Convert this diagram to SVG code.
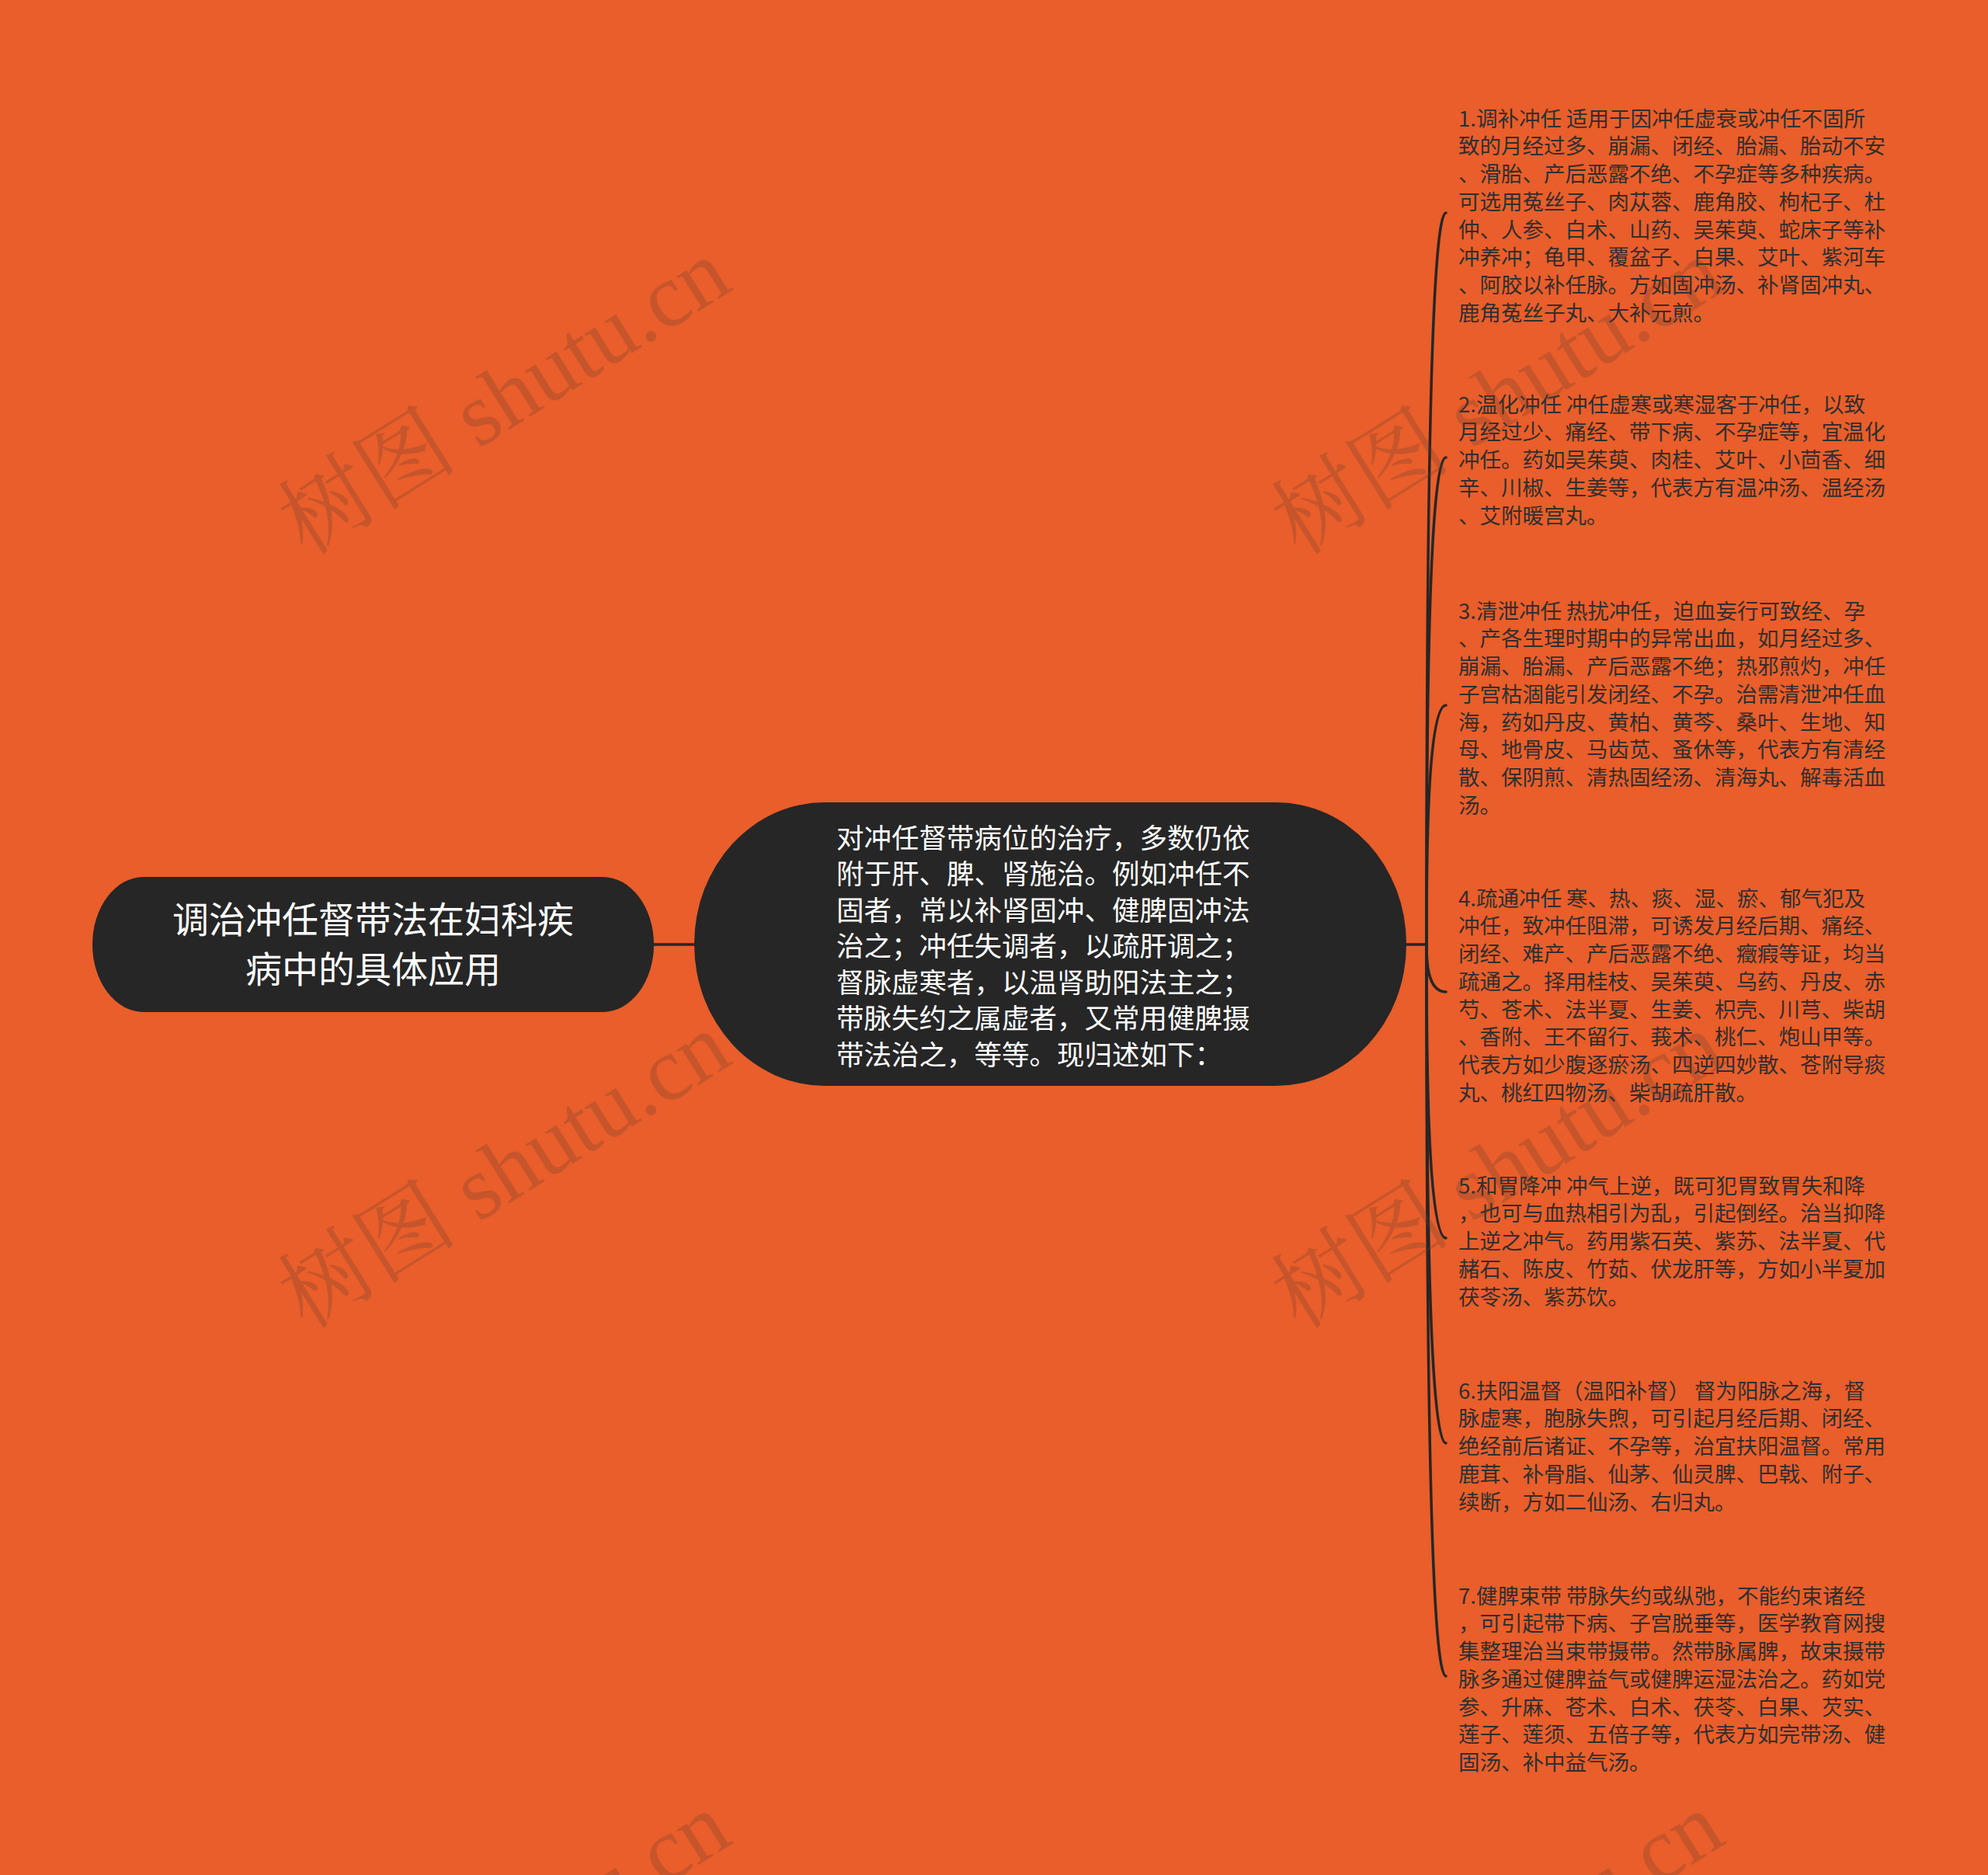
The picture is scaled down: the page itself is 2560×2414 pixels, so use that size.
<svg xmlns="http://www.w3.org/2000/svg" width="2560" height="2414" viewBox="0 0 2560 2414">
<style>
.bg{fill:#E95E2A}
.node{fill:#262626}
.wt{fill:#ffffff;font-family:"Noto Sans CJK SC","Noto Sans",sans-serif}
.rt{fill:#2f2f2f;font-family:"Noto Sans CJK SC","Noto Sans",sans-serif;font-size:27.5px}
.ln{fill:none;stroke:#262626;stroke-width:3.5;stroke-linecap:round}
.wm{fill:rgb(100,60,50);fill-opacity:0.26;font-family:"Liberation Serif","Noto Serif CJK SC","Noto Sans CJK SC",serif;font-size:116px}
</style>
<rect class="bg" x="0" y="0" width="2560" height="2414"/>

<g id="connectors">
<path class="ln" d="M842 1216 L894 1216"/>
<path class="ln" d="M1811 1216 L1837 1216"/>
<path class="ln" d="M1837 1216 C1837 928 1837 274 1862 274"/>
<path class="ln" d="M1837 1216 C1837 1027 1837 589 1862 589"/>
<path class="ln" d="M1837 1216 C1837 1123 1837 908 1862 908"/>
<path class="ln" d="M1837 1216 C1837 1234 1837 1277 1862 1277"/>
<path class="ln" d="M1837 1216 C1837 1329 1837 1594 1862 1594"/>
<path class="ln" d="M1837 1216 C1837 1409 1837 1858 1862 1858"/>
<path class="ln" d="M1837 1216 C1837 1499 1837 2158 1862 2158"/>
</g>

<g id="root">
<rect class="node" x="119" y="1129" width="723" height="174" rx="66" ry="87"/>
<text class="wt" font-size="47" text-anchor="middle"><tspan x="480.5" y="1201">调治冲任督带法在妇科疾</tspan><tspan x="480.5" y="1265">病中的具体应用</tspan></text>
</g>

<g id="center">
<rect class="node" x="894" y="1033" width="917" height="365" rx="168" ry="182"/>
<text class="wt" font-size="35.5"><tspan x="1077" y="1091.5">对冲任督带病位的治疗，多数仍依</tspan><tspan x="1077" y="1138">附于肝、脾、肾施治。例如冲任不</tspan><tspan x="1077" y="1184.5">固者，常以补肾固冲、健脾固冲法</tspan><tspan x="1077" y="1231">治之；冲任失调者，以疏肝调之；</tspan><tspan x="1077" y="1277.5">督脉虚寒者，以温肾助阳法主之；</tspan><tspan x="1077" y="1324">带脉失约之属虚者，又常用健脾摄</tspan><tspan x="1077" y="1370.5">带法治之，等等。现归述如下：</tspan></text>
</g>

<g id="item1">
<text class="rt"><tspan x="1878" y="162.5">1.调补冲任 适用于因冲任虚衰或冲任不固所</tspan><tspan x="1878" y="198.25">致的月经过多、崩漏、闭经、胎漏、胎动不安</tspan><tspan x="1878" y="234">、滑胎、产后恶露不绝、不孕症等多种疾病。</tspan><tspan x="1878" y="269.75">可选用菟丝子、肉苁蓉、鹿角胶、枸杞子、杜</tspan><tspan x="1878" y="305.5">仲、人参、白术、山药、吴茱萸、蛇床子等补</tspan><tspan x="1878" y="341.25">冲养冲；龟甲、覆盆子、白果、艾叶、紫河车</tspan><tspan x="1878" y="377">、阿胶以补任脉。方如固冲汤、补肾固冲丸、</tspan><tspan x="1878" y="412.75">鹿角菟丝子丸、大补元煎。</tspan></text>
</g>

<g id="item2">
<text class="rt"><tspan x="1878" y="530.5">2.温化冲任 冲任虚寒或寒湿客于冲任，以致</tspan><tspan x="1878" y="566.25">月经过少、痛经、带下病、不孕症等，宜温化</tspan><tspan x="1878" y="602">冲任。药如吴茱萸、肉桂、艾叶、小茴香、细</tspan><tspan x="1878" y="637.75">辛、川椒、生姜等，代表方有温冲汤、温经汤</tspan><tspan x="1878" y="673.5">、艾附暖宫丸。</tspan></text>
</g>

<g id="item3">
<text class="rt"><tspan x="1878" y="796.5">3.清泄冲任 热扰冲任，迫血妄行可致经、孕</tspan><tspan x="1878" y="832.25">、产各生理时期中的异常出血，如月经过多、</tspan><tspan x="1878" y="868">崩漏、胎漏、产后恶露不绝；热邪煎灼，冲任</tspan><tspan x="1878" y="903.75">子宫枯涸能引发闭经、不孕。治需清泄冲任血</tspan><tspan x="1878" y="939.5">海，药如丹皮、黄柏、黄芩、桑叶、生地、知</tspan><tspan x="1878" y="975.25">母、地骨皮、马齿苋、蚤休等，代表方有清经</tspan><tspan x="1878" y="1011">散、保阴煎、清热固经汤、清海丸、解毒活血</tspan><tspan x="1878" y="1046.75">汤。</tspan></text>
</g>

<g id="item4">
<text class="rt"><tspan x="1878" y="1166.5">4.疏通冲任 寒、热、痰、湿、瘀、郁气犯及</tspan><tspan x="1878" y="1202.25">冲任，致冲任阻滞，可诱发月经后期、痛经、</tspan><tspan x="1878" y="1238">闭经、难产、产后恶露不绝、癥瘕等证，均当</tspan><tspan x="1878" y="1273.75">疏通之。择用桂枝、吴茱萸、乌药、丹皮、赤</tspan><tspan x="1878" y="1309.5">芍、苍术、法半夏、生姜、枳壳、川芎、柴胡</tspan><tspan x="1878" y="1345.25">、香附、王不留行、莪术、桃仁、炮山甲等。</tspan><tspan x="1878" y="1381">代表方如少腹逐瘀汤、四逆四妙散、苍附导痰</tspan><tspan x="1878" y="1416.75">丸、桃红四物汤、柴胡疏肝散。</tspan></text>
</g>

<g id="item5">
<text class="rt"><tspan x="1878" y="1536.5">5.和胃降冲 冲气上逆，既可犯胃致胃失和降</tspan><tspan x="1878" y="1572.25">，也可与血热相引为乱，引起倒经。治当抑降</tspan><tspan x="1878" y="1608">上逆之冲气。药用紫石英、紫苏、法半夏、代</tspan><tspan x="1878" y="1643.75">赭石、陈皮、竹茹、伏龙肝等，方如小半夏加</tspan><tspan x="1878" y="1679.5">茯苓汤、紫苏饮。</tspan></text>
</g>

<g id="item6">
<text class="rt"><tspan x="1878" y="1800.5">6.扶阳温督（温阳补督） 督为阳脉之海，督</tspan><tspan x="1878" y="1836.25">脉虚寒，胞脉失煦，可引起月经后期、闭经、</tspan><tspan x="1878" y="1872">绝经前后诸证、不孕等，治宜扶阳温督。常用</tspan><tspan x="1878" y="1907.75">鹿茸、补骨脂、仙茅、仙灵脾、巴戟、附子、</tspan><tspan x="1878" y="1943.5">续断，方如二仙汤、右归丸。</tspan></text>
</g>

<g id="item7">
<text class="rt"><tspan x="1878" y="2064.5">7.健脾束带 带脉失约或纵弛，不能约束诸经</tspan><tspan x="1878" y="2100.25">，可引起带下病、子宫脱垂等，医学教育网搜</tspan><tspan x="1878" y="2136">集整理治当束带摄带。然带脉属脾，故束摄带</tspan><tspan x="1878" y="2171.75">脉多通过健脾益气或健脾运湿法治之。药如党</tspan><tspan x="1878" y="2207.5">参、升麻、苍术、白术、茯苓、白果、芡实、</tspan><tspan x="1878" y="2243.25">莲子、莲须、五倍子等，代表方如完带汤、健</tspan><tspan x="1878" y="2279">固汤、补中益气汤。</tspan></text>
</g>

<g id="watermarks">
<text class="wm" text-anchor="middle" transform="translate(650 512) rotate(-32)" y="38">树图 shutu.cn</text>
<text class="wm" text-anchor="middle" transform="translate(1929 512) rotate(-32)" y="38">树图 shutu.cn</text>
<text class="wm" text-anchor="middle" transform="translate(650 1508) rotate(-32)" y="38">树图 shutu.cn</text>
<text class="wm" text-anchor="middle" transform="translate(1929 1508) rotate(-32)" y="38">树图 shutu.cn</text>
<text class="wm" text-anchor="middle" transform="translate(650 2512) rotate(-32)" y="38">树图 shutu.cn</text>
<text class="wm" text-anchor="middle" transform="translate(1929 2512) rotate(-32)" y="38">树图 shutu.cn</text>
</g>
</svg>
